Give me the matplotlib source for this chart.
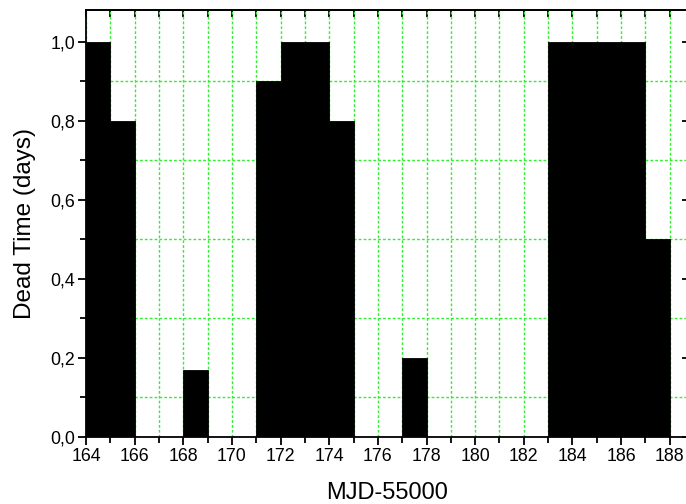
import matplotlib
matplotlib.use('Agg')
import matplotlib.pyplot as plt
from matplotlib.ticker import MultipleLocator, FixedLocator, FixedFormatter

plt.rcParams['font.family'] = ['Liberation Sans', 'DejaVu Sans']

# daily dead time, one bar per day starting at the given MJD-55000
days = list(range(164, 188))
dead_time = [1.0, 0.8, 0.0, 0.0, 0.17, 0.0, 0.0, 0.9, 1.0, 1.0, 0.8, 0.0,
             0.0, 0.2, 0.0, 0.0, 0.0, 0.0, 0.0, 1.0, 1.0, 1.0, 1.0, 0.5]

x_ticks = list(range(164, 189, 2))
y_ticks = [0.0, 0.2, 0.4, 0.6, 0.8, 1.0]
y_labels = ['0,0', '0,2', '0,4', '0,6', '0,8', '1,0']

fig = plt.figure(figsize=(6.86, 5.04), dpi=100)
ax = fig.add_axes([86 / 686, 67 / 504, 602 / 686, 427 / 504])

ax.bar(days, dead_time, width=1.0, align='edge', color='black',
       edgecolor='black', linewidth=0.6, zorder=3)

ax.set_xlim(164, 188.75)
ax.set_ylim(0, 1.081)

ax.xaxis.set_major_locator(FixedLocator(x_ticks))
ax.xaxis.set_minor_locator(MultipleLocator(1))
ax.yaxis.set_major_locator(FixedLocator(y_ticks))
ax.yaxis.set_major_formatter(FixedFormatter(y_labels))
ax.yaxis.set_minor_locator(MultipleLocator(0.1))

# green dotted grid: every day on x, odd tenths on y
ax.grid(True, axis='x', which='both', color='#33ee33', linestyle=(0, (2, 1.5)),
        linewidth=1.0, zorder=1)
ax.grid(True, axis='y', which='minor', color='#33ee33', linestyle=(0, (2, 1.5)),
        linewidth=1.0, zorder=1)
ax.set_axisbelow(True)

for s in ax.spines.values():
    s.set_linewidth(1.3)

ax.tick_params(axis='both', which='major', direction='out', length=6, width=1.3,
               labelsize=12.8, pad=2)
ax.tick_params(axis='both', which='minor', direction='out', length=4, width=1.3)

top = ax.secondary_xaxis('top')
top.xaxis.set_major_locator(MultipleLocator(1))
top.tick_params(direction='in', length=5, width=1.3, labeltop=False)
top.spines['top'].set_linewidth(1.3)

right = ax.secondary_yaxis('right')
right.yaxis.set_major_locator(FixedLocator(y_ticks))
right.tick_params(direction='in', length=4, width=1.3, labelright=False)

ax.set_xlabel('MJD-55000', fontsize=17, labelpad=12)
ax.set_ylabel('Dead Time (days)', fontsize=17.5, labelpad=10)

fig.savefig('out.png', dpi=100)
